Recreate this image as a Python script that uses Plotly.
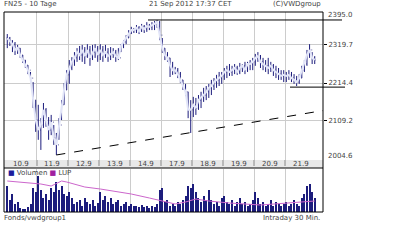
import plotly.graph_objects as go

# ---------------- data ----------------
day_labels = ["10.9", "11.9", "12.9", "13.9", "14.9", "17.9", "18.9", "19.9", "20.9", "21.9"]
bars_per_day = 12

highs = [2350, 2342, 2333, 2328, 2320, 2311, 2292, 2278, 2264, 2245, 2217, 2167,
         2154, 2117, 2159, 2145, 2120, 2126, 2098, 2076, 2117, 2167, 2214, 2250,
         2278, 2286, 2300, 2311, 2317, 2320, 2314, 2322, 2317, 2320, 2322, 2317,
         2322, 2317, 2320, 2311, 2314, 2311, 2306, 2311, 2322, 2333, 2347, 2361,
         2370, 2367, 2375, 2372, 2378, 2375, 2383, 2378, 2383, 2386, 2389, 2386,
         2339, 2311, 2300, 2284, 2273, 2259, 2256, 2245, 2223, 2212, 2190, 2167,
         2176, 2173, 2181, 2190, 2201, 2206, 2212, 2223, 2228, 2237, 2245, 2245,
         2256, 2262, 2267, 2262, 2267, 2262, 2270, 2267, 2273, 2273, 2278, 2284,
         2295, 2300, 2292, 2284, 2278, 2284, 2273, 2267, 2262, 2256, 2250, 2250,
         2245, 2250, 2245, 2239, 2234, 2239, 2262, 2278, 2306, 2322, 2300, 2289]
lows = [2311, 2317, 2300, 2292, 2295, 2284, 2270, 2256, 2239, 2217, 2145, 2079,
        2057, 2029, 2090, 2093, 2057, 2070, 2043, 2015, 2057, 2112, 2154, 2195,
        2212, 2250, 2262, 2273, 2278, 2273, 2267, 2284, 2262, 2278, 2284, 2273,
        2278, 2273, 2284, 2273, 2278, 2284, 2273, 2278, 2300, 2311, 2322, 2339,
        2350, 2353, 2353, 2350, 2356, 2353, 2356, 2361, 2361, 2361, 2367, 2333,
        2298, 2278, 2273, 2231, 2237, 2239, 2228, 2214, 2195, 2178, 2117, 2076,
        2120, 2126, 2140, 2145, 2162, 2167, 2173, 2181, 2195, 2201, 2206, 2212,
        2223, 2228, 2234, 2234, 2239, 2237, 2239, 2245, 2239, 2245, 2250, 2250,
        2262, 2273, 2256, 2250, 2245, 2239, 2245, 2234, 2228, 2223, 2223, 2217,
        2217, 2223, 2217, 2212, 2206, 2212, 2228, 2245, 2262, 2284, 2267, 2267]
closes = [2339, 2331, 2322, 2306, 2311, 2292, 2278, 2264, 2250, 2228, 2167, 2112,
          2084, 2098, 2140, 2112, 2084, 2106, 2062, 2043, 2098, 2154, 2195, 2237,
          2256, 2273, 2284, 2300, 2292, 2306, 2289, 2306, 2284, 2300, 2311, 2292,
          2306, 2292, 2300, 2289, 2295, 2300, 2289, 2284, 2317, 2328, 2339, 2353,
          2361, 2361, 2367, 2358, 2370, 2364, 2372, 2370, 2375, 2378, 2383, 2347,
          2311, 2292, 2284, 2264, 2250, 2250, 2239, 2223, 2206, 2190, 2140, 2140,
          2154, 2145, 2167, 2173, 2181, 2190, 2201, 2206, 2217, 2223, 2228, 2234,
          2245, 2250, 2245, 2250, 2256, 2245, 2256, 2262, 2250, 2267, 2267, 2273,
          2284, 2289, 2273, 2267, 2262, 2256, 2262, 2250, 2245, 2239, 2234, 2237,
          2234, 2237, 2228, 2223, 2217, 2228, 2250, 2267, 2292, 2306, 2284, 2278]
volumes = [2600, 1200, 1800, 800, 1000, 400, 300, 300, 500, 800, 2400, 2000,
           3600, 2200, 1400, 1800, 1200, 2400, 2000, 3000, 2200, 2600, 1800, 1600,
           2000, 1400, 800, 1000, 1200, 600, 1400, 1000, 800, 1200, 600, 900,
           2000, 1200, 1600, 1000, 1400, 800, 1000, 1200, 600, 800, 1000, 600,
           800, 600, 600, 500, 700, 500, 600, 400, 600, 500, 800, 2200,
           2400, 1000, 1200, 600, 800, 600, 1000, 800, 1200, 1600, 2600, 2400,
           2800, 2000, 1400, 1000, 1600, 1200, 2200, 1200, 800, 1000, 600, 1400,
           1600, 1000, 800, 1200, 600, 1000, 1400, 800, 1000, 600, 800, 1200,
           2000, 1400, 800, 1000, 600, 800, 1200, 600, 1000, 800, 600, 800,
           1000, 600, 800, 1200, 800, 600, 1400, 1800, 2600, 2800, 2000, 1400]
lup_idx = [0, 5, 13, 17, 21, 23, 26, 30, 36, 48, 55, 61, 65, 69, 73, 78, 86, 98, 109, 117, 119]
lup_val = [3100, 3000, 2800, 2600, 3100, 3000, 2800, 2500, 2300, 1800, 1400, 1000, 800,
           1000, 1300, 1100, 900, 700, 900, 1100, 1100]

trend_idx = [19, 122.2]
trend_val = [2015, 2138]
high_line = 2389
mark_line = 2203
y_ticks = [2319.7, 2214.4, 2109.2]
y_ticktext = ["2319.7", "2214.4", "2109.2"]
max_label = "2395.0"
min_label = "2004.6"

# ---------------- build ----------------
n = len(closes)
idx = list(range(n))
opens = [closes[0]] + closes[:-1]
day_bounds = [d * bars_per_day - 0.5 for d in range(1, len(day_labels))]
day_centers = [d * bars_per_day + (bars_per_day - 1) / 2 for d in range(len(day_labels))]

NAVY = "#1c1c7c"
FONT = "DejaVu Sans"
TXT = "#444"
xr = [-1.27, 122.2]

fig = go.Figure()
fig.add_trace(go.Scatter(x=idx, y=closes, mode="lines", line=dict(color="#e2e5f8", width=2),
                         xaxis="x", yaxis="y", hoverinfo="skip"))
fig.add_trace(go.Ohlc(x=idx, open=opens, high=highs, low=lows, close=closes,
                      increasing_line_color=NAVY, decreasing_line_color=NAVY,
                      line=dict(width=1), tickwidth=0.25, xaxis="x", yaxis="y"))
fig.add_trace(go.Scatter(x=trend_idx, y=trend_val, mode="lines",
                         line=dict(color="black", width=1, dash="dash"), xaxis="x", yaxis="y"))
fig.add_trace(go.Bar(x=idx, y=volumes, marker=dict(color=NAVY, line=dict(width=0)), width=0.4,
                     xaxis="x2", yaxis="y2"))
fig.add_trace(go.Scatter(x=lup_idx, y=lup_val, mode="lines", line=dict(color="#cc66cc", width=1),
                         xaxis="x2", yaxis="y2"))

X0, X1 = 4 / 400, 323 / 400
fig.update_layout(
    width=400, height=250, margin=dict(l=0, r=0, t=0, b=0),
    paper_bgcolor="white", plot_bgcolor="white", showlegend=False,
    font=dict(family=FONT, size=7, color=TXT),
    xaxis=dict(domain=[X0, X1], range=xr, anchor="y", tickvals=day_bounds, showticklabels=False,
               showgrid=True, gridcolor="#cccccc", gridwidth=1, zeroline=False,
               rangeslider=dict(visible=False), fixedrange=True),
    yaxis=dict(domain=[90 / 250, 238 / 250], range=[2001.1, 2411.1], side="right",
               tickvals=y_ticks, ticktext=y_ticktext, ticks="outside", ticklen=3,
               tickcolor="black", showgrid=True, gridcolor="#cccccc", zeroline=False,
               tickfont=dict(size=7, color=TXT, family=FONT)),
    xaxis2=dict(domain=[X0, X1], range=xr, anchor="y2", tickvals=day_bounds, showticklabels=False,
                showgrid=True, gridcolor="#cccccc", zeroline=False),
    yaxis2=dict(domain=[38 / 250, 81 / 250], range=[0, 4300], showticklabels=False,
                showgrid=False, zeroline=False),
)

shapes = [
    dict(type="rect", xref="paper", yref="paper", x0=X0, x1=X1, y0=82 / 250, y1=90 / 250,
         fillcolor="#e8e8e8", line=dict(width=0), layer="below"),
    dict(type="line", xref="paper", yref="paper", x0=X0, x1=X1, y0=82 / 250, y1=82 / 250,
         line=dict(color="black", width=1)),
    dict(type="rect", xref="paper", yref="paper", x0=X0, x1=X1, y0=38 / 250, y1=238 / 250,
         line=dict(color="black", width=1)),
    dict(type="line", xref="paper", yref="y", x0=148 / 400, x1=342 / 400, y0=high_line, y1=high_line,
         line=dict(color="black", width=1)),
    dict(type="line", xref="paper", yref="y", x0=290 / 400, x1=345 / 400, y0=mark_line, y1=mark_line,
         line=dict(color="black", width=1)),
]
for b in day_bounds:
    shapes.append(dict(type="line", xref="x", yref="paper", x0=b, x1=b, y0=84 / 250, y1=90 / 250,
                       line=dict(color="#888", width=1)))
fig.update_layout(shapes=shapes)

ann = []
for c, t in zip(day_centers, day_labels):
    ann.append(dict(x=c, y=86 / 250, xref="x", yref="paper", text=t, showarrow=False,
                    font=dict(size=7, color=TXT), xanchor="center", yanchor="middle"))
ann += [
    dict(x=2 / 400, y=1 - 4 / 250, xref="paper", yref="paper", text="FN25 - 10 Tage", showarrow=False,
         xanchor="left", yanchor="middle", font=dict(size=7, color=TXT)),
    dict(x=147 / 400, y=1 - 4 / 250, xref="paper", yref="paper", text="21 Sep 2012 17:37 CET",
         showarrow=False, xanchor="left", yanchor="middle", font=dict(size=7, color=TXT)),
    dict(x=323 / 400, y=1 - 4 / 250, xref="paper", yref="paper", text="(C)VWDgroup", showarrow=False,
         xanchor="right", yanchor="middle", font=dict(size=7, color=TXT)),
    dict(x=326 / 400, y=1 - 15 / 250, xref="paper", yref="paper", text=max_label, showarrow=False,
         xanchor="left", yanchor="middle", font=dict(size=7, color=TXT)),
    dict(x=326 / 400, y=1 - 156 / 250, xref="paper", yref="paper", text=min_label, showarrow=False,
         xanchor="left", yanchor="middle", font=dict(size=7, color=TXT)),
    dict(x=6 / 400, y=1 - 173 / 250, xref="paper", yref="paper",
         text='<span style="color:#1c1c9c">■</span> Volumen <span style="color:#a020a0">■</span> LUP',
         showarrow=False, xanchor="left", yanchor="middle", font=dict(size=7, color=TXT)),
    dict(x=2 / 400, y=1 - 218 / 250, xref="paper", yref="paper", text="Fonds/vwdgroup1", showarrow=False,
         xanchor="left", yanchor="middle", font=dict(size=7, color=TXT)),
    dict(x=322 / 400, y=1 - 218 / 250, xref="paper", yref="paper", text="Intraday 30 Min.",
         showarrow=False, xanchor="right", yanchor="middle", font=dict(size=7, color=TXT)),
]
fig.update_layout(annotations=ann)

fig.write_html("out.html")
